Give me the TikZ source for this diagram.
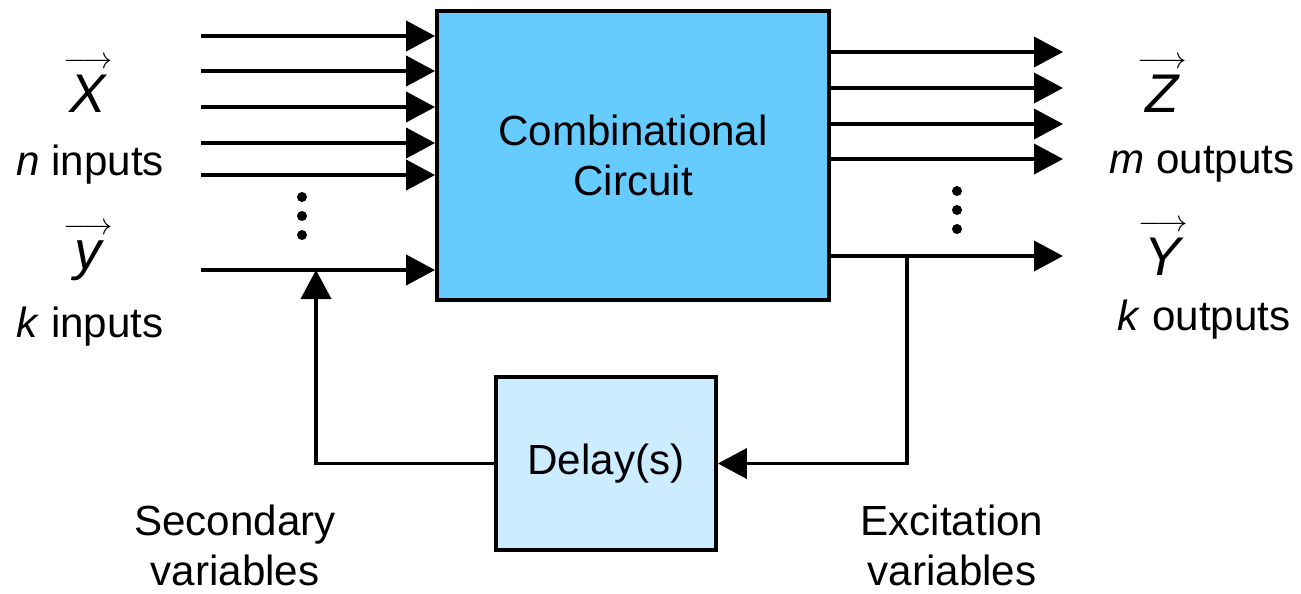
\documentclass[tikz,border=0pt]{standalone}
\usepackage{fontspec}
\setmainfont{Liberation Sans}
\usetikzlibrary{arrows.meta,positioning}
\definecolor{combblue}{HTML}{66CCFF}
\definecolor{delayblue}{HTML}{CCECFF}
\newcommand{\vecsym}[1]{\leavevmode\vbox{\offinterlineskip\halign{\hfil##\hfil\cr
  $\scriptstyle\longrightarrow$\cr\noalign{\kern3.5pt}
  \fontsize{31}{36}\selectfont\itshape #1\cr}}}

\begin{document}
\begin{tikzpicture}[x=0.02cm,y=-0.02cm]
\tikzset{
  block/.style={draw,line width=2.2pt,inner sep=0pt,align=center,font=\fontsize{24}{28.5}\selectfont},
  wire/.style={line width=2.2pt},
  signal/.style={wire,-{Triangle[length=0.58cm,width=0.6cm]}},
  lbl/.style={font=\fontsize{24}{28.5}\selectfont,inner sep=0pt,anchor=base},
  note/.style={font=\fontsize{24}{28.5}\selectfont,inner sep=0pt,align=center}
}
\useasboundingbox (0,0) rectangle (1301,593);
\node[block,fill=combblue,minimum width=7.84cm,minimum height=5.78cm] (comb) at (633,155.5) {Combinational\\Circuit};
\node[block,fill=delayblue,minimum width=4.4cm,minimum height=3.46cm] (delay) at (606,463.5) {Delay(s)};
% inputs
\foreach \y [count=\i] in {36,71,107,143,175,270} {
  \coordinate (in\i) at (201,\y);
  \draw[signal] (in\i) -- (comb.west |- in\i);
}
% outputs
\foreach \y [count=\i] in {52,88,124,159,256} {
  \coordinate (out\i) at (1063,\y);
  \draw[signal] (comb.east |- out\i) -- (out\i);
}
% feedback loop
\coordinate (tap) at (907,256);
\coordinate (join) at (316,270);
\draw[signal] (tap) |- (delay.east);
\draw[signal] (delay.west) -| (join);
% dots
\foreach \y in {197,216,235} {
  \fill (302,\y) circle (0.1cm);
  \fill (957,\y-6) circle (0.1cm);
}
% labels
\node[lbl] (vecX) at (88,112) {\vecsym{X}};
\node[lbl] (nin) at (90,175) {\textit{n} inputs};
\node[lbl] (vecy) at (88,269) {\vecsym{y}};
\node[lbl] (kin) at (90,337) {\textit{k} inputs};
\node[lbl] (vecZ) at (1162,112) {\vecsym{Z}};
\node[lbl] (mout) at (1202,173) {\textit{m} outputs};
\node[lbl] (vecY) at (1163,275) {\vecsym{Y}};
\node[lbl] (kout) at (1204,330) {\textit{k} outputs};
\node[note] (second) at (235,545) {Secondary\\variables};
\node[note] (excite) at (952,545) {Excitation\\variables};
\end{tikzpicture}
\end{document}
